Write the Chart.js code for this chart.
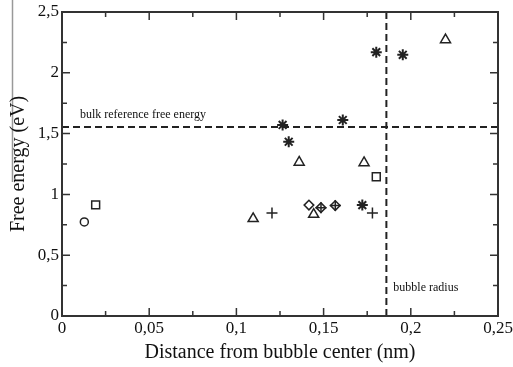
<!DOCTYPE html>
<html><head><meta charset="utf-8">
<script src="https://cdn.jsdelivr.net/npm/chart.js@4/dist/chart.umd.min.js"></script>
<style>html,body{margin:0;padding:0;background:#fff}#wrap{width:513px;height:367px}</style>
</head><body><div id="wrap"><canvas id="c" width="513" height="367"></canvas></div>
<script>
// ---- data ----
const circleX = [0.0128];
const circleY = [0.774];
const squareX = [0.0193, 0.1802];
const squareY = [0.914, 1.145];
const triangleX = [0.1096, 0.1443, 0.136, 0.1732, 0.2199];
const triangleY = [0.800, 0.835, 1.264, 1.260, 2.271];
const plusX = [0.1204, 0.1485, 0.1567, 0.1780];
const plusY = [0.848, 0.891, 0.908, 0.848];
const diamondX = [0.1416, 0.1485, 0.1567];
const diamondY = [0.912, 0.891, 0.908];
const starX = [0.1265, 0.1300, 0.1610, 0.1802, 0.1954, 0.1722];
const starY = [1.571, 1.433, 1.612, 2.170, 2.148, 0.912];
const bulkRefEnergy = 1.555;
const bubbleRadius = 0.186;
const xTickValues = [0, 0.05, 0.1, 0.15, 0.2, 0.25];
const yTickValues = [0, 0.5, 1, 1.5, 2, 2.5];
const xTitle = 'Distance from bubble center (nm)';
const yTitle = 'Free energy (eV)';
const bulkLabel = 'bulk reference free energy';
const radiusLabel = 'bubble radius';

const pts = (xs, ys) => xs.map((x, i) => ({x, y: ys[i]}));
const fmt = v => String(+(+v).toFixed(3)).replace('.', ',');
const SERIF = '"Liberation Serif", "Times New Roman", serif';
const INK = '#222';

function markerSet(label, xs, ys, style, r, w) {
  return {type: 'scatter', label, data: pts(xs, ys), pointStyle: style, pointRadius: r,
    pointHoverRadius: r, borderColor: INK, backgroundColor: 'rgba(0,0,0,0)', pointBorderWidth: w || 1.5, borderWidth: w || 1.5};
}

const framePlugin = {
  id: 'frame',
  beforeDraw(chart) {
    const ctx = chart.ctx;
    ctx.save();
    ctx.strokeStyle = '#999'; ctx.lineWidth = 1.5;
    ctx.beginPath(); ctx.moveTo(12.5, 0); ctx.lineTo(12.5, 182); ctx.stroke();
    ctx.restore();
  },
  afterDraw(chart) {
    const {ctx, chartArea: a, scales: {x, y}} = chart;
    ctx.save();
    ctx.strokeStyle = '#333'; ctx.lineWidth = 2;
    ctx.strokeRect(a.left, a.top, a.right - a.left, a.bottom - a.top);
    ctx.lineWidth = 1.5;
    ctx.beginPath();
    for (let i = 0; i < xTickValues.length; i++) {
      const px = x.getPixelForValue(xTickValues[i]);
      ctx.moveTo(px, a.bottom); ctx.lineTo(px, a.bottom - 8);
      ctx.moveTo(px, a.top); ctx.lineTo(px, a.top + 8);
      if (i < xTickValues.length - 1) {
        const mx = x.getPixelForValue((xTickValues[i] + xTickValues[i + 1]) / 2);
        ctx.moveTo(mx, a.bottom); ctx.lineTo(mx, a.bottom - 5);
        ctx.moveTo(mx, a.top); ctx.lineTo(mx, a.top + 5);
      }
    }
    for (let i = 0; i < yTickValues.length; i++) {
      const py = y.getPixelForValue(yTickValues[i]);
      ctx.moveTo(a.left, py); ctx.lineTo(a.left + 8, py);
      ctx.moveTo(a.right, py); ctx.lineTo(a.right - 8, py);
      if (i < yTickValues.length - 1) {
        const my = y.getPixelForValue((yTickValues[i] + yTickValues[i + 1]) / 2);
        ctx.moveTo(a.left, my); ctx.lineTo(a.left + 5, my);
        ctx.moveTo(a.right, my); ctx.lineTo(a.right - 5, my);
      }
    }
    ctx.stroke();
    ctx.fillStyle = '#111';
    ctx.font = '12px ' + SERIF;
    ctx.textBaseline = 'middle'; ctx.textAlign = 'left';
    ctx.fillText(bulkLabel, x.getPixelForValue(0.0103), y.getPixelForValue(1.653));
    ctx.fillText(radiusLabel, x.getPixelForValue(0.190), y.getPixelForValue(0.234));
    ctx.restore();
  }
};

new Chart(document.getElementById('c'), {
  type: 'scatter',
  data: {
    datasets: [
      {type: 'line', label: 'bulk', data: [{x: xTickValues[0], y: bulkRefEnergy}, {x: xTickValues[xTickValues.length - 1], y: bulkRefEnergy}],
        borderColor: INK, borderWidth: 2, borderDash: [7, 4], pointRadius: 0, fill: false},
      {type: 'line', label: 'radius', data: [{x: bubbleRadius, y: yTickValues[0]}, {x: bubbleRadius, y: yTickValues[yTickValues.length - 1]}],
        borderColor: INK, borderWidth: 2, borderDash: [7, 4], pointRadius: 0, fill: false},
      markerSet('circle', circleX, circleY, 'circle', 4),
      markerSet('square', squareX, squareY, 'rect', 5.6),
      markerSet('triangle', triangleX, triangleY, 'triangle', 5.8),
      markerSet('diamond', diamondX, diamondY, 'rectRot', 4.8),
      markerSet('plus', plusX, plusY, 'cross', 5.5),
      markerSet('star', starX, starY, 'star', 5.5, 2)
    ]
  },
  options: {
    responsive: false, animation: false, devicePixelRatio: 1,
    layout: {padding: {left: 0, top: 12, right: 15, bottom: 0}},
    plugins: {legend: {display: false}, tooltip: {enabled: false}},
    scales: {
      x: {type: 'linear', min: 0, max: 0.25,
        afterBuildTicks: s => { s.ticks = xTickValues.map(v => ({value: v})); },
        afterFit: s => { s.height = 51; s.paddingLeft = 0; s.paddingRight = 0; },
        grid: {display: false, drawTicks: false}, border: {display: false},
        ticks: {padding: 2, color: '#111', font: {family: SERIF, size: 17}, callback: v => fmt(v), maxRotation: 0, autoSkip: false},
        title: {display: true, text: xTitle, color: '#111', font: {family: SERIF, size: 20}, padding: {top: 0, bottom: 2}}
      },
      y: {type: 'linear', min: 0, max: 2.5,
        afterBuildTicks: s => { s.ticks = yTickValues.map(v => ({value: v})); },
        afterFit: s => { s.width = 62; s.paddingTop = 0; s.paddingBottom = 0; },
        grid: {display: false, drawTicks: false}, border: {display: false},
        ticks: {padding: 3, color: '#111', font: {family: SERIF, size: 17}, callback: v => fmt(v), autoSkip: false},
        title: {display: true, text: yTitle, color: '#111', font: {family: SERIF, size: 20}, padding: {top: 7, bottom: 0}}
      }
    }
  },
  plugins: [framePlugin]
});
</script></body></html>
